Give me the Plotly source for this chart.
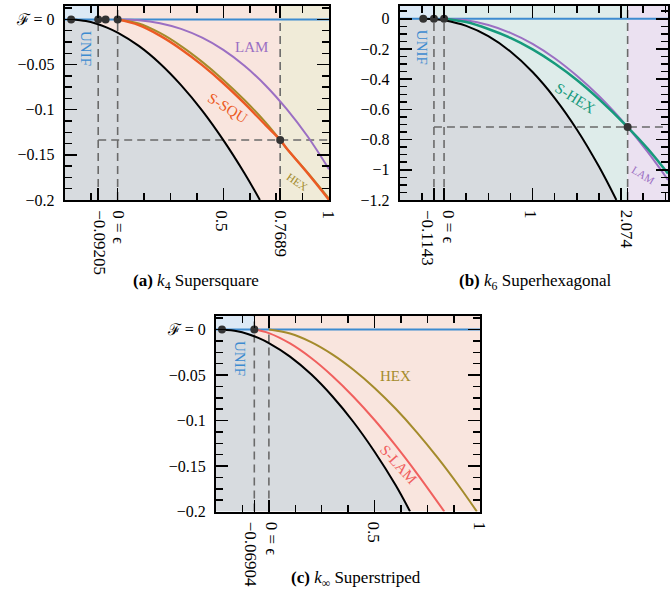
import plotly.graph_objects as go

FONT = "Liberation Serif, DejaVu Serif, serif"

# ---------------- data: panel (a) k4 supersquare ----------------
A_BLACK_X = [-0.22, -0.15, -0.10, -0.05, 0.00, 0.10, 0.20, 0.30, 0.40, 0.50, 0.60, 0.673]
A_BLACK_F = [0.0, -0.0017, -0.0047, -0.0090, -0.0146, -0.0293, -0.0487, -0.0727, -0.1010, -0.1337, -0.1704, -0.2000]
A_SSQU_X = [0.0, 0.1, 0.2, 0.3, 0.4, 0.5, 0.6, 0.7, 0.7689, 0.8, 0.9, 1.0]
A_SSQU_F = [0.0, -0.0063, -0.0179, -0.0329, -0.0506, -0.0707, -0.0930, -0.1171, -0.1335, -0.1431, -0.1708, -0.2000]
A_HEX_F = [0.0, -0.0045, -0.0150, -0.0295, -0.0470, -0.0670, -0.0892, -0.1140, -0.1335, -0.1430, -0.1700, -0.1985]
A_LAM_X = [0.0, 0.1, 0.2, 0.3, 0.4, 0.5, 0.6, 0.7, 0.8, 0.9, 1.0]
A_LAM_F = [0.0, -0.0008, -0.0041, -0.0104, -0.0202, -0.0337, -0.0513, -0.0731, -0.0994, -0.1300, -0.1660]
A_DOTS_X = [-0.22, -0.09205, -0.057, 0.0, 0.7689]
A_DOTS_F = [0.0, 0.0, 0.0, 0.0, -0.1335]
A_VLINES = [-0.09205, 0.0, 0.7689]
A_HLINE = (-0.09205, -0.1335)
A_BOUNDS = [-0.09205, 0.7689]
A_XTICKS = [-0.09205, 0.0, 0.5, 0.7689, 1.0]
A_XTICKTEXT = ["\u22120.09205", "0 = \u03f5", "0.5", "0.7689", "1"]
A_XLABEL_SHIFT = [1, 0, -2, 0, 0]
A_YTICKS = [0.0, -0.05, -0.1, -0.15, -0.2]
A_YTICKTEXT = ["<span style='font-family:DejaVu Serif'>\u2131</span> = 0",
               "\u22120.05", "\u22120.1", "\u22120.15", "\u22120.2"]

# ---------------- data: panel (b) k6 superhexagonal ----------------
B_BLACK_X = [-0.235, -0.1, 0.0, 0.25, 0.5, 0.75, 1.0, 1.25, 1.5, 1.75, 1.947]
B_BLACK_F = [0.0, -0.003, -0.010, -0.0473, -0.1156, -0.217, -0.353, -0.525, -0.733, -0.979, -1.2]
B_SHEX_X = [0.0, 0.25, 0.5, 0.75, 1.0, 1.25, 1.5, 1.75, 2.074, 2.3, 2.53]
B_SHEX_F = [0.0, -0.022, -0.068, -0.127, -0.203, -0.296, -0.405, -0.532, -0.717, -0.860, -1.025]
B_LAM_F = [0.0, -0.0104, -0.0417, -0.0938, -0.1667, -0.262, -0.378, -0.512, -0.717, -0.882, -1.067]
B_DOTS_X = [-0.235, -0.1143, 0.0, 2.074]
B_DOTS_F = [0.0, 0.0, 0.0, -0.717]
B_VLINES = [-0.1143, 0.0, 2.074]
B_HLINE = (-0.1143, -0.717)
B_BOUNDS = [-0.1143, 2.074]
B_XTICKS = [-0.1143, 0.0, 1.0, 2.0, 2.074]
B_XTICKTEXT = ["\u22120.1143", "0 = \u03f5", "1", "", "2.074"]
B_XLABEL_SHIFT = [-7, 4, -2, 0, -1]
B_YTICKS = [0.0, -0.2, -0.4, -0.6, -0.8, -1.0, -1.2]
B_YTICKTEXT = ["0", "\u22120.2", "\u22120.4", "\u22120.6", "\u22120.8", "\u22121", "\u22121.2"]

# ---------------- data: panel (c) k-infinity superstriped ----------------
C_BLACK_X = [-0.222, -0.15, -0.10, -0.05, 0.0, 0.1, 0.2, 0.3, 0.4, 0.5, 0.6, 0.668]
C_BLACK_F = [0.0, -0.0018, -0.0048, -0.0092, -0.0148, -0.0297, -0.0492, -0.0733, -0.1016, -0.1343, -0.1712, -0.2]
C_SLAM_X = [-0.06904, 0.0, 0.1, 0.2, 0.3, 0.4, 0.5, 0.6, 0.7, 0.83]
C_SLAM_F = [0.0, -0.0039, -0.0153, -0.0313, -0.051, -0.0738, -0.0994, -0.1276, -0.158, -0.2]
C_HEX_X = [0.0, 0.1, 0.2, 0.3, 0.4, 0.5, 0.6, 0.7, 0.8, 0.9, 0.984]
C_HEX_F = [0.0, -0.0043, -0.0137, -0.0272, -0.0441, -0.0641, -0.0871, -0.1129, -0.1413, -0.1722, -0.2]
C_DOTS_X = [-0.222, -0.06904]
C_DOTS_F = [0.0, 0.0]
C_VLINES = [-0.06904, 0.0]
C_BOUNDS = [-0.06904]
C_XTICKS = [-0.06904, 0.0, 0.5, 1.0]
C_XTICKTEXT = ["\u22120.06904", "0 = \u03f5", "0.5", "1"]
C_XLABEL_SHIFT = [-3, 3, -1, 0]

# ---------------- styles ----------------
BLUE = "#3d8bd0"
ORANGE = "#ec5a24"
OLIVE = "#a48b2c"
PURPLE = "#9b6fc3"
GREEN = "#169a7c"
RED = "#f0605e"
DOT = "#333333"
DASH = "#6a6a6a"
BG_UNIF = "#dce9f5"
BG_PINK = "#f9e5de"
BG_GRAY = "#d7dbdf"
BG_BEIGE = "#f0ebd8"
BG_TEAL = "#deecea"
BG_LAV = "#ebe1f1"

W, H = 670, 603

panels = {
    1: dict(xdom=[65 / W, 330 / W], ydom=[(H - 203) / H, (H - 6) / H],
            xr=[-0.25, 1.0], yr=[-0.2, 0.015]),
    2: dict(xdom=[401 / W, 1.0], ydom=[(H - 203) / H, (H - 6) / H],
            xr=[-0.5, 2.53], yr=[-1.2, 0.085]),
    3: dict(xdom=[216.7 / W, 481.7 / W], ydom=[(H - 519.3) / H, (H - 320.7) / H],
            xr=[-0.25, 1.0], yr=[-0.2, 0.015]),
}

fig = go.Figure()
shapes = []
annotations = []


def refs(i):
    s = "" if i == 1 else str(i)
    return "x" + s, "y" + s


def add_line(i, x, y, color, width, dash=None, spline=True):
    xr, yr = refs(i)
    fig.add_trace(go.Scatter(
        x=x, y=y, xaxis=xr, yaxis=yr, mode="lines", hoverinfo="skip",
        line=dict(color=color, width=width, dash=dash,
                  shape="spline" if spline else "linear", smoothing=1.0)))


def add_regions(i, bounds, colors):
    xr_, yr_ = refs(i)
    p = panels[i]
    edges = [p["xr"][0]] + bounds + [p["xr"][1]]
    for k, c in enumerate(colors):
        shapes.append(dict(type="rect", xref=xr_, yref=yr_, layer="below",
                           x0=edges[k], x1=edges[k + 1], y0=p["yr"][0], y1=p["yr"][1],
                           fillcolor=c, line=dict(width=0)))


def add_gray(i, bx, bf):
    xr_, yr_ = refs(i)
    p = panels[i]
    fig.add_trace(go.Scatter(
        x=[p["xr"][0]] + bx + [p["xr"][0]], y=[0.0] + bf + [p["yr"][0]],
        xaxis=xr_, yaxis=yr_, mode="lines", fill="toself", fillcolor=BG_GRAY,
        line=dict(width=0), hoverinfo="skip"))


def add_dashes(i, vlines, hline=None):
    p = panels[i]
    for v in vlines:
        add_line(i, [v, v], p["yr"], DASH, 1.6, dash="8px,5px", spline=False)
    if hline is not None:
        add_line(i, [hline[0], p["xr"][1]], [hline[1], hline[1]], DASH, 1.6,
                 dash="8px,5px", spline=False)


def add_dots(i, x, y):
    xr_, yr_ = refs(i)
    fig.add_trace(go.Scatter(x=x, y=y, xaxis=xr_, yaxis=yr_, mode="markers",
                             marker=dict(color=DOT, size=8), hoverinfo="skip"))


def label(i, text, x, y, color, size=15, angle=0):
    xr_, yr_ = refs(i)
    annotations.append(dict(text=text, x=x, y=y, xref=xr_, yref=yr_, showarrow=False,
                            textangle=angle, font=dict(family=FONT, size=size, color=color)))


def xlabels(i, vals, texts, shifts):
    xr_, _ = refs(i)
    ybot = panels[i]["ydom"][0]
    for v, t, s in zip(vals, texts, shifts):
        if not t:
            continue
        annotations.append(dict(text=t, x=v, y=ybot, xref=xr_, yref="paper",
                                xanchor="center", yanchor="top", yshift=-8, xshift=s,
                                textangle=90, showarrow=False,
                                font=dict(family=FONT, size=17, color="black")))


# ---- panel (a)
add_regions(1, A_BOUNDS, [BG_UNIF, BG_PINK, BG_BEIGE])
add_gray(1, A_BLACK_X, A_BLACK_F)
add_dashes(1, A_VLINES, A_HLINE)
add_line(1, panels[1]["xr"], [0, 0], BLUE, 2, spline=False)
add_line(1, A_LAM_X, A_LAM_F, PURPLE, 2)
add_line(1, A_SSQU_X, A_HEX_F, OLIVE, 2)
add_line(1, A_SSQU_X, A_SSQU_F, ORANGE, 2.4)
add_line(1, A_BLACK_X, A_BLACK_F, "black", 2)
add_dots(1, A_DOTS_X, A_DOTS_F)
label(1, "UNIF", -0.153, -0.032, BLUE, 15, 90)
label(1, "LAM", 0.631, -0.031, PURPLE, 15)
label(1, "S-SQU", 0.52, -0.098, ORANGE, 15, 32)
label(1, "HEX", 0.851, -0.180, OLIVE, 11, 34)
xlabels(1, A_XTICKS, A_XTICKTEXT, A_XLABEL_SHIFT)

# ---- panel (b)
add_regions(2, B_BOUNDS, [BG_UNIF, BG_TEAL, BG_LAV])
add_gray(2, B_BLACK_X, B_BLACK_F)
add_dashes(2, B_VLINES, B_HLINE)
add_line(2, panels[2]["xr"], [0, 0], BLUE, 2, spline=False)
add_line(2, B_SHEX_X, B_LAM_F, PURPLE, 2)
add_line(2, B_SHEX_X, B_SHEX_F, GREEN, 2.5)
add_line(2, B_BLACK_X, B_BLACK_F, "black", 2)
add_dots(2, B_DOTS_X, B_DOTS_F)
label(2, "UNIF", -0.254, -0.19, BLUE, 15, 90)
label(2, "S-HEX", 1.477, -0.527, GREEN, 15, 32)
label(2, "LAM", 2.25, -1.034, PURPLE, 11, 31)
xlabels(2, B_XTICKS, B_XTICKTEXT, B_XLABEL_SHIFT)

# ---- panel (c)
add_regions(3, C_BOUNDS, [BG_UNIF, BG_PINK])
add_gray(3, C_BLACK_X, C_BLACK_F)
add_dashes(3, C_VLINES)
add_line(3, panels[3]["xr"], [0, 0], BLUE, 2, spline=False)
add_line(3, C_HEX_X, C_HEX_F, OLIVE, 2)
add_line(3, C_SLAM_X, C_SLAM_F, RED, 2)
add_line(3, C_BLACK_X, C_BLACK_F, "black", 2)
add_dots(3, C_DOTS_X, C_DOTS_F)
label(3, "UNIF", -0.14, -0.0316, BLUE, 15, 90)
label(3, "HEX", 0.599, -0.0508, OLIVE, 15)
label(3, "S-LAM", 0.615, -0.1487, RED, 15, 48)
xlabels(3, C_XTICKS, C_XTICKTEXT, C_XLABEL_SHIFT)

# ---- captions
cap_font = dict(family=FONT, size=17, color="black")
for txt, cx, cy in [("<b>(a)</b> <i>k</i><sub>4</sub> Supersquare", 197, 286),
                    ("<b>(b)</b> <i>k</i><sub>6</sub> Superhexagonal", 537, 286),
                    ("<b>(c)</b> <i>k</i><sub>\u221e</sub> Superstriped", 357, 588)]:
    annotations.append(dict(text=txt, x=cx / W, y=(H - cy) / H, xref="paper", yref="paper",
                            xanchor="center", yanchor="middle", showarrow=False, font=cap_font))

tick_font = dict(family=FONT, size=16, color="black")


def xaxis(i, tv, minor_dt):
    p = panels[i]
    return dict(domain=p["xdom"], range=p["xr"], anchor=refs(i)[1], showgrid=False, zeroline=False,
                showline=True, linecolor="black", linewidth=2, mirror="allticks",
                ticks="inside", ticklen=12, tickwidth=1.5, tickcolor="black",
                tickmode="array", tickvals=tv, showticklabels=False,
                minor=dict(ticks="inside", ticklen=7, tickwidth=1.5, tickcolor="black",
                           tickmode="linear", tick0=0, dtick=minor_dt, showgrid=False),
                fixedrange=True)


def yaxis(i, tv, tt, minor_dt):
    p = panels[i]
    return dict(domain=p["ydom"], range=p["yr"], anchor=refs(i)[0], showgrid=False, zeroline=False,
                showline=True, linecolor="black", linewidth=2, mirror="allticks",
                ticks="inside", ticklen=12, tickwidth=1.5, tickcolor="black",
                tickmode="array", tickvals=tv, ticktext=tt, tickfont=tick_font,
                ticklabelstandoff=5,
                minor=dict(ticks="inside", ticklen=7, tickwidth=1.5, tickcolor="black",
                           tickmode="linear", tick0=0, dtick=minor_dt, showgrid=False),
                fixedrange=True)


fig.update_layout(
    width=W, height=H, margin=dict(l=0, r=0, t=0, b=0),
    paper_bgcolor="white", plot_bgcolor="white", showlegend=False,
    font=dict(family=FONT, color="black"),
    xaxis=xaxis(1, A_XTICKS, 0.125),
    yaxis=yaxis(1, A_YTICKS, A_YTICKTEXT, 0.0125),
    xaxis2=xaxis(2, B_XTICKS, 0.25),
    yaxis2=yaxis(2, B_YTICKS, B_YTICKTEXT, 0.05),
    xaxis3=xaxis(3, C_XTICKS, 0.125),
    yaxis3=yaxis(3, A_YTICKS, A_YTICKTEXT, 0.0125),
    shapes=shapes, annotations=annotations,
)

fig.write_html("out.html", config={"displayModeBar": False, "staticPlot": True},
               post_script="document.body.style.margin='0';document.body.style.overflow='hidden';")
